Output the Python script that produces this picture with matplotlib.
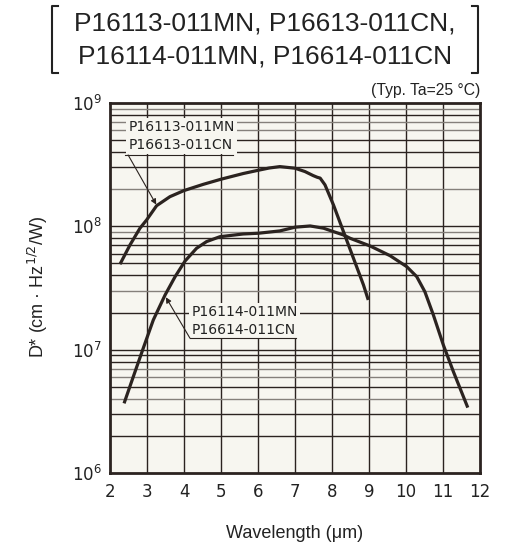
import numpy as np
import matplotlib.pyplot as plt
from matplotlib.lines import Line2D

# P16113-011MN / P16613-011CN
wl_a = [2.27, 2.54, 2.81, 2.99, 3.26, 3.62, 4.0, 4.52, 5.0, 5.6, 6.01, 6.3, 6.59, 7.0, 7.27, 7.49,
        7.6, 7.68, 7.81, 8.04, 8.31, 8.58, 8.85, 8.98]
d_a = [4.93e7, 7.06e7, 9.66e7, 1.127e8, 1.47e8, 1.74e8, 1.95e8, 2.19e8, 2.41e8, 2.68e8, 2.85e8, 2.97e8,
       3.05e8, 2.96e8, 2.78e8, 2.58e8, 2.5e8, 2.46e8, 2.17e8, 1.49e8, 9.06e7, 5.51e7, 3.35e7, 2.53e7]

# P16114-011MN / P16614-011CN
wl_b = [2.38, 2.63, 2.9, 3.17, 3.49, 3.76, 4.03, 4.34, 4.61, 4.97, 5.6, 6.01, 6.59, 7.0, 7.41, 7.77,
        8.04, 8.31, 8.49, 9.03, 9.57, 10.02, 10.29, 10.51, 10.74, 11.01, 11.28, 11.67]
d_b = [3.67e6, 6.04e6, 1.03e7, 1.74e7, 2.78e7, 3.91e7, 5.24e7, 6.64e7, 7.52e7, 8.24e7, 8.67e7, 8.79e7,
       9.18e7, 9.84e7, 1.007e8, 9.66e7, 9.06e7, 8.51e7, 8.0e7, 6.93e7, 5.78e7, 4.71e7, 3.91e7, 2.95e7,
       1.91e7, 1.09e7, 6.64e6, 3.39e6]

label_a = "P16113-011MN\nP16613-011CN"
label_b = "P16114-011MN\nP16614-011CN"
title_1 = "P16113-011MN, P16613-011CN,"
title_2 = "P16114-011MN, P16614-011CN"

ink = "#2b2320"
grey = "#85807b"
bg = "#f7f6f0"

fig = plt.figure(figsize=(5.09, 5.45), dpi=100)
ax = fig.add_axes([110 / 509, 1 - 473 / 545, 370 / 509, 370 / 545])
ax.set_facecolor(bg)
ax.set_yscale("log")
ax.set_xlim(2, 12)
ax.set_ylim(1e6, 1e9)

# grid (shades follow the scanned look of the original)
for x in range(3, 12):
    ax.axvline(x, color=ink, lw=1.0, zorder=1)
shades = {
    1e6: {2: ink, 3: ink, 4: grey, 5: ink, 6: grey, 7: grey, 8: ink, 9: ink},
    1e7: {2: ink, 3: grey, 4: ink, 5: ink, 6: ink, 7: ink, 8: ink, 9: grey},
    1e8: {2: grey, 3: ink, 4: ink, 5: ink, 6: grey, 7: grey, 8: ink, 9: grey},
}
for dec, sh in shades.items():
    for m in range(2, 10):
        ax.axhline(m * dec, color=sh[m], lw=1.0, zorder=1)
    if dec > 1e6:
        ax.axhline(dec, color=ink, lw=1.0, zorder=1)

ax.plot(wl_a, d_a, color=ink, lw=2.3, zorder=3, solid_joinstyle="round", solid_capstyle="butt")
ax.plot(wl_b, d_b, color=ink, lw=2.3, zorder=3, solid_joinstyle="round", solid_capstyle="butt")

for s in ax.spines.values():
    s.set_color(ink)
    s.set_linewidth(2)
ax.tick_params(which="both", length=0, labelsize=12, colors="#222222")
ax.tick_params(axis="x", pad=7)
ax.tick_params(axis="y", pad=6)
ax.set_xticks(range(2, 13))
ax.set_yticks([1e6, 1e7, 1e8, 1e9])
ax.set_yticklabels([r"10$^{6}$", r"10$^{7}$", r"10$^{8}$", r"10$^{9}$"])
ax.minorticks_off()

# curve labels
lab_kw = dict(fontsize=10, color="#222222", linespacing=1.3, zorder=4,
              bbox=dict(facecolor=bg, edgecolor="none", pad=1.5))
arrow_kw = dict(arrowstyle="-|>", color=ink, lw=0.8, mutation_scale=8, shrinkA=0, shrinkB=0)

ax.text(2.49, 5.4e8, label_a, ha="left", va="center", **lab_kw)
ax.add_line(Line2D([2.41, 5.32], [3.79e8, 3.79e8], color=ink, lw=0.8, zorder=4))
ax.annotate("", xy=(3.25, 1.5e8), xytext=(2.49, 3.79e8), arrowprops=arrow_kw, zorder=4)

ax.text(4.2, 1.71e7, label_b, ha="left", va="center", **lab_kw)
ax.add_line(Line2D([4.16, 7.03], [1.24e7, 1.24e7], color=ink, lw=0.8, zorder=4))
ax.annotate("", xy=(3.51, 2.66e7), xytext=(4.16, 1.24e7), arrowprops=arrow_kw, zorder=4)

# axis labels
fig.text(295 / 509, 1 - 533 / 545, "Wavelength (μm)", ha="center", va="center",
         fontsize=13, family="Liberation Sans", color="#222222")
fig.text(38 / 509, 1 - 287 / 545, r"D* (cm · Hz$^{1/2}$/W)", ha="center", va="center",
         rotation=90, fontsize=13, family="Liberation Sans", color="#222222")
fig.text(480 / 509, 1 - 90 / 545, "(Typ. Ta=25 °C)", ha="right", va="center",
         fontsize=11.3, family="Liberation Sans", color="#222222")

# title with brackets
fig.text(265 / 509, 1 - 30 / 545, title_1, ha="center", va="baseline",
         fontsize=19, family="Liberation Sans", color="#222222")
fig.text(265 / 509, 1 - 63 / 545, title_2, ha="center", va="baseline",
         fontsize=19, family="Liberation Sans", color="#222222")
by = [6, 6, 73, 73]
for xs in ([58, 52, 52, 58], [472, 478, 478, 472]):
    fig.add_artist(Line2D([v / 509 for v in xs], [1 - v / 545 for v in by],
                          color="#222222", lw=1.5))

fig.savefig("out.png", dpi=100)
